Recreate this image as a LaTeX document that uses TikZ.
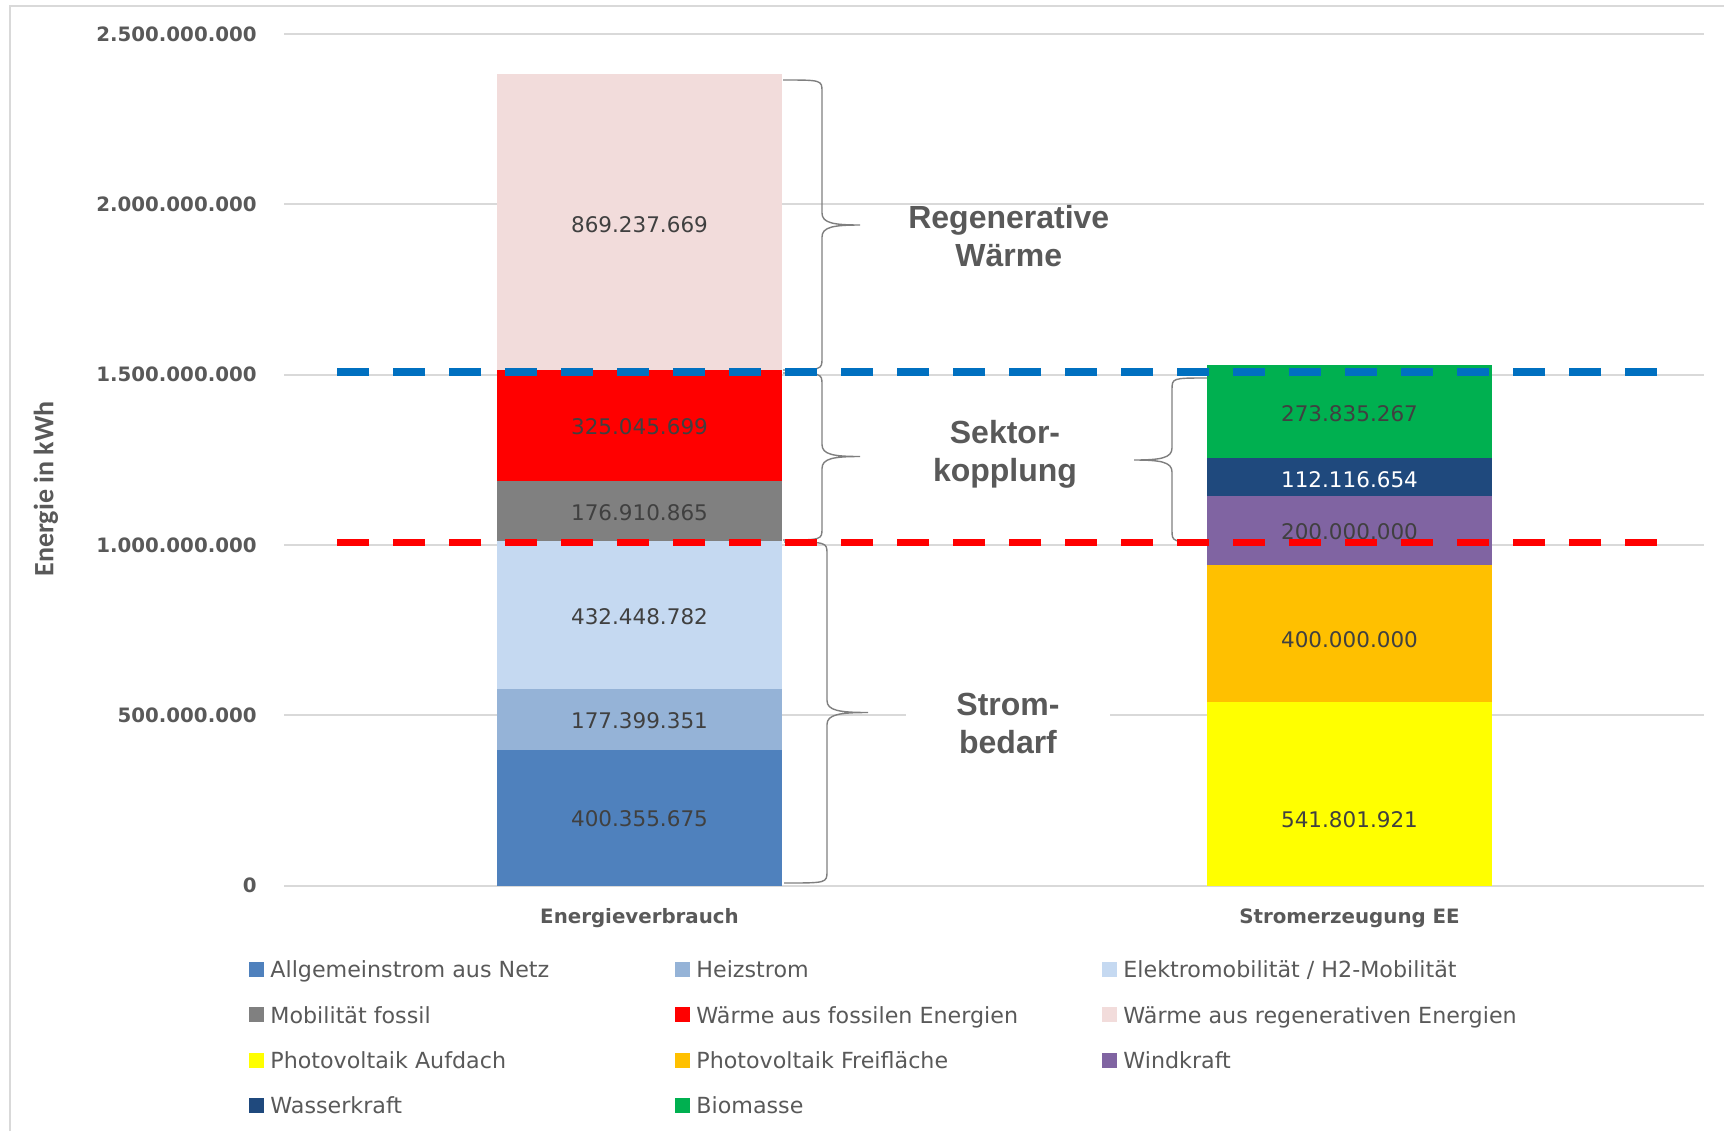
\documentclass[tikz,border=0pt]{standalone}
\usepackage{fontspec}
\setmainfont{DejaVu Sans}
\newfontfamily\bracefont{Liberation Sans}
\newfontfamily\titlefont{Carlito}
\usepackage{tikz}
\usetikzlibrary{positioning}

\definecolor{txtgray}{HTML}{595959}
\definecolor{valgray}{HTML}{404040}
\definecolor{gridgray}{HTML}{D9D9D9}
\definecolor{bracegray}{HTML}{7F7F7F}
\definecolor{dashblue}{HTML}{0070C0}
\definecolor{allgem}{HTML}{4F81BD}
\definecolor{heiz}{HTML}{95B3D7}
\definecolor{emob}{HTML}{C5D9F1}
\definecolor{mobfossil}{HTML}{808080}
\definecolor{wfossil}{HTML}{FF0000}
\definecolor{wreg}{HTML}{F2DCDB}
\definecolor{pvdach}{HTML}{FFFF00}
\definecolor{pvfrei}{HTML}{FFC000}
\definecolor{wind}{HTML}{8064A2}
\definecolor{wasser}{HTML}{1F497D}
\definecolor{bio}{HTML}{00B050}

\tikzset{
  frameline/.style={draw=gridgray,line width=1pt},
  gridline/.style={draw=gridgray,line width=1pt},
  bracestroke/.style={draw=bracegray,line width=0.7pt},
  bluedash/.style={draw=dashblue,line width=3.8pt,dash pattern=on 16pt off 12pt},
  reddash/.style={draw=red,line width=3.8pt,dash pattern=on 16pt off 12pt},
  lgbox/.style={minimum size=7.5pt},
  lgtext/.style={text=txtgray,text height=8.1pt,text depth=0pt,font=\fontsize{11.1}{13}\selectfont},
  bracelabel/.style={align=center,text=txtgray,font=\bracefont\bfseries\fontsize{16}{18.75}\selectfont}
}

% end x, top y, bottom y, spine x, tip x
\newcommand{\xlbrace}[5]{%
  \draw[bracestroke] (#1,#2) .. controls (#4,#2) and (#4,#2) .. (#4,#2+12)
    -- (#4,{(#2+#3)/2-12}) .. controls (#4,{(#2+#3)/2-2}) and ({#4+0.3*(#5-#4)},{(#2+#3)/2}) .. (#5,{(#2+#3)/2})
    .. controls ({#4+0.3*(#5-#4)},{(#2+#3)/2}) and (#4,{(#2+#3)/2+2}) .. (#4,{(#2+#3)/2+12})
    -- (#4,#3-12) .. controls (#4,#3) and (#4,#3) .. (#1,#3);
}

\begin{document}
\begin{tikzpicture}[x=0.5pt,y=-0.5pt]
	\useasboundingbox (0,0) rectangle (1724,1131);
	\draw[frameline] (10,1131) -- (10,5.5) -- (1724,5.5);

	\begin{scope}[]
		\draw[gridline] (284,885.5) -- (1704,885.5);
		\draw[gridline] (284,715.2) -- (1704,715.2);
		\draw[gridline] (284,544.9) -- (1704,544.9);
		\draw[gridline] (284,374.6) -- (1704,374.6);
		\draw[gridline] (284,204.3) -- (1704,204.3);
		\draw[gridline] (284,34) -- (1704,34);
	\end{scope}

	\begin{scope}[every node/.style={anchor=east,inner sep=0pt,text=txtgray,font=\bfseries\fontsize{9.9}{12}\selectfont}]
		\node (t_0) at (257,885.5) {0};
		\node (t_1) at (257,715.2) {500.000.000};
		\node (t_2) at (257,544.9) {1.000.000.000};
		\node (t_3) at (257,374.6) {1.500.000.000};
		\node (t_4) at (257,204.3) {2.000.000.000};
		\node (t_5) at (257,34) {2.500.000.000};
	\end{scope}
	\node[rotate=90,text=txtgray,font=\titlefont\bfseries\fontsize{14}{16}\selectfont] (ytitle) at (46,489) {Energie in kWh};

	\begin{scope}[]
		\fill[allgem] (497,885.5) rectangle (782,749.5);
		\fill[heiz] (497,749.5) rectangle (782,689.3);
		\fill[emob] (497,689.3) rectangle (782,541.2);
		\fill[mobfossil] (497,541.2) rectangle (782,480.9);
		\fill[wfossil] (497,480.9) rectangle (782,370.2);
		\fill[wreg] (497,370.2) rectangle (782,73.9);

		\fill[pvdach] (1207,885.5) rectangle (1492,701.7);
		\fill[pvfrei] (1207,701.7) rectangle (1492,564.5);
		\fill[wind] (1207,564.5) rectangle (1492,496.4);
		\fill[wasser] (1207,496.4) rectangle (1492,458.2);
		\fill[bio] (1207,458.2) rectangle (1492,364.8);
	\end{scope}

	\begin{scope}[every node/.style={text=valgray,inner sep=0pt,font=\fontsize{10.75}{13}\selectfont}]
		\node (v_1) at (639.5,818.3) {400.355.675};
		\node (v_2) at (639.5,721) {177.399.351};
		\node (v_3) at (639.5,616.7) {432.448.782};
		\node (v_4) at (639.5,512.4) {176.910.865};
		\node (v_5) at (639.5,426.6) {325.045.699};
		\node (v_6) at (639.5,224.5) {869.237.669};

		\node (e_1) at (1349.5,819.3) {541.801.921};
		\node (e_2) at (1349.5,640) {400.000.000};
		\node (e_3) at (1349.5,531.7) {200.000.000};
		\node[text=white] (e_4) at (1349.5,479.5) {112.116.654};
		\node (e_5) at (1349.5,413.3) {273.835.267};
	\end{scope}

	\begin{scope}[every node/.style={text=txtgray,inner sep=0pt,text height=7.2pt,text depth=0pt,font=\bfseries\fontsize{9.9}{12}\selectfont}]
		\node (c_1) at (639.5,916.7) {Energieverbrauch};
		\node (c_2) at (1349.5,916.7) {Stromerzeugung EE};
	\end{scope}

	\xlbrace{783}{80}{370}{822}{860}
	\xlbrace{783}{373}{540}{822}{860}
	\xlbrace{784}{542}{883}{827}{868}
	\xlbrace{1207}{378}{542}{1172}{1134}

	\node[bracelabel] (b_1) at (1008.8,236.3) {Regenerative\\Wärme};
	\node[bracelabel] (b_2) at (1005,454.2) {Sektor-\\kopplung};
	\node[bracelabel,fill=white,text width=95pt] (b_3) at (1008,723.4) {Strom-\\bedarf};

	\draw[bluedash] (337,372) -- (1657,372);
	\draw[reddash] (337,542.3) -- (1657,542.3);

	\begin{scope}[every node/.style={inner sep=0pt}]
		\node[lgbox,fill=allgem] (m_1) at (256.5,969.8) {};
		\node[lgbox,fill=heiz] (m_2) at (682.5,969.8) {};
		\node[lgbox,fill=emob] (m_3) at (1109.5,969.8) {};
		\node[lgbox,fill=mobfossil] (m_4) at (256.5,1014.9) {};
		\node[lgbox,fill=wfossil] (m_5) at (682.5,1014.9) {};
		\node[lgbox,fill=wreg] (m_6) at (1109.5,1014.9) {};
		\node[lgbox,fill=pvdach] (m_7) at (256.5,1060) {};
		\node[lgbox,fill=pvfrei] (m_8) at (682.5,1060) {};
		\node[lgbox,fill=wind] (m_9) at (1109.5,1060) {};
		\node[lgbox,fill=wasser] (m_10) at (256.5,1105) {};
		\node[lgbox,fill=bio] (m_11) at (682.5,1105) {};

		\node[lgtext,right=2.8pt of m_1] (l_1) {Allgemeinstrom aus Netz};
		\node[lgtext,right=2.8pt of m_2] (l_2) {Heizstrom};
		\node[lgtext,right=2.8pt of m_3] (l_3) {Elektromobilität / H2-Mobilität};
		\node[lgtext,right=2.8pt of m_4] (l_4) {Mobilität fossil};
		\node[lgtext,right=2.8pt of m_5] (l_5) {Wärme aus fossilen Energien};
		\node[lgtext,right=2.8pt of m_6] (l_6) {Wärme aus regenerativen Energien};
		\node[lgtext,right=2.8pt of m_7] (l_7) {Photovoltaik Aufdach};
		\node[lgtext,right=2.8pt of m_8] (l_8) {Photovoltaik Freifläche};
		\node[lgtext,right=2.8pt of m_9] (l_9) {Windkraft};
		\node[lgtext,right=2.8pt of m_10] (l_10) {Wasserkraft};
		\node[lgtext,right=2.8pt of m_11] (l_11) {Biomasse};
	\end{scope}
\end{tikzpicture}
\end{document}
